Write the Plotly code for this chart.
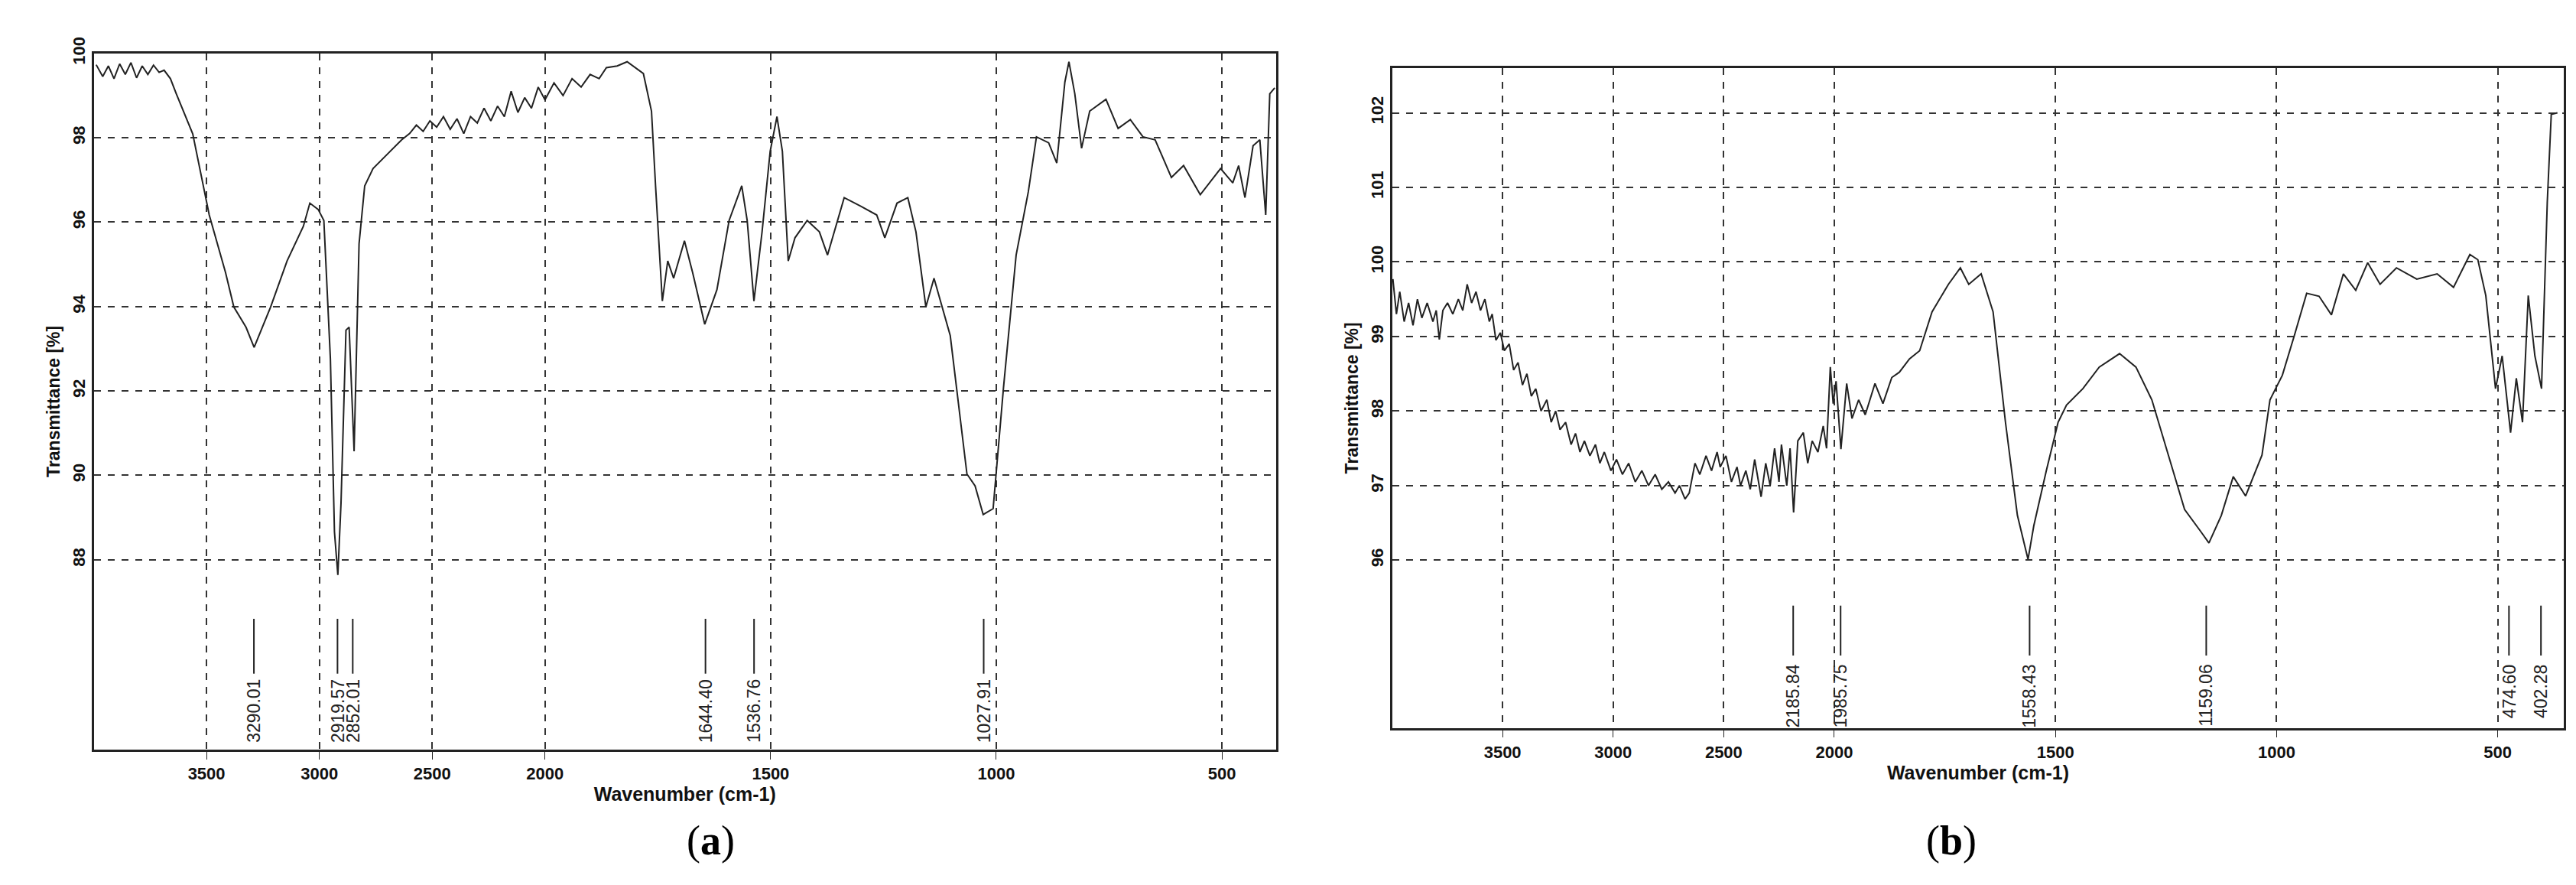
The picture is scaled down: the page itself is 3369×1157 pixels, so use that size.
import plotly.graph_objects as go

# ---- Panel (a) data ----
a_wn = [3989,3960,3935,3910,3885,3860,3835,3810,3785,3760,3735,3710,3688,3660,3634,3561,3488,3416,3379,3325,3289,3216,3143,3071,3042,3005,2980,2951,2933,2918,2904,2882,2868,2846,2824,2799,2762,2700,2635,2600,2570,2540,2510,2480,2450,2420,2390,2360,2330,2300,2270,2240,2210,2180,2150,2120,2090,2060,2030,2000,1980,1960,1940,1920,1900,1880,1864,1840,1818,1782,1764,1755,1740,1728,1715,1691,1673,1646,1619,1592,1564,1552,1537,1519,1501,1486,1474,1461,1446,1419,1392,1374,1337,1301,1265,1247,1220,1196,1178,1156,1138,1102,1065,1047,1029,1007,984,956,929,911,884,866,848,839,826,811,793,757,730,703,675,648,612,585,548,503,476,463,449,431,416,403,394,383]
a_T = [99.73,99.45,99.7,99.4,99.75,99.5,99.78,99.42,99.7,99.5,99.72,99.55,99.6,99.4,99.04,98.09,96.17,94.81,93.99,93.51,93.03,93.99,95.08,95.9,96.45,96.3,96.04,92.76,88.66,87.64,89.34,93.44,93.51,90.57,95.49,96.86,97.27,97.6,97.95,98.1,98.3,98.15,98.4,98.25,98.5,98.2,98.45,98.1,98.5,98.35,98.7,98.4,98.75,98.5,99.1,98.6,98.95,98.7,99.2,98.9,99.3,99.0,99.4,99.2,99.5,99.4,99.66,99.7,99.8,99.52,98.63,96.86,94.13,95.08,94.67,95.56,94.81,93.58,94.4,96.04,96.86,96.04,94.13,95.77,97.68,98.5,97.68,95.08,95.63,96.04,95.77,95.22,96.58,96.38,96.17,95.63,96.45,96.58,95.77,93.99,94.67,93.31,90.03,89.75,89.07,89.21,92.08,95.22,96.72,98.02,97.88,97.4,99.32,99.8,99.04,97.75,98.63,98.91,98.22,98.43,98.02,97.95,97.06,97.34,96.65,97.27,96.93,97.34,96.58,97.81,97.95,96.17,99.04,99.18]
a_peaks = [3290.01, 2919.57, 2852.01, 1644.40, 1536.76, 1027.91]
a_yticks = [88, 90, 92, 94, 96, 98, 100]

# ---- Panel (b) data ----
b_wn = [3996,3980,3965,3945,3925,3905,3885,3865,3841,3815,3800,3786,3770,3749,3725,3700,3680,3660,3640,3620,3600,3580,3560,3547,3530,3510,3492,3470,3450,3430,3410,3390,3370,3350,3326,3300,3280,3260,3240,3215,3190,3170,3150,3130,3105,3080,3060,3040,3010,2985,2958,2930,2900,2870,2840,2810,2780,2750,2720,2700,2675,2656,2630,2608,2580,2555,2530,2516,2490,2465,2440,2424,2400,2380,2360,2331,2310,2290,2270,2250,2239,2215,2200,2184,2165,2140,2120,2100,2074,2050,2035,2018,2005,1996,1985,1972,1960,1945,1930,1908,1890,1870,1853,1830,1807,1779,1742,1715,1696,1668,1641,1613,1586,1562,1549,1521,1494,1475,1438,1401,1355,1318,1282,1245,1208,1171,1153,1125,1098,1070,1033,1015,987,959,932,904,876,849,821,794,766,729,683,637,600,563,545,527,505,490,471,458,444,431,416,401,388,379,365]
b_T = [99.77,99.3,99.6,99.2,99.45,99.15,99.5,99.25,99.45,99.2,99.35,98.96,99.35,99.45,99.3,99.5,99.35,99.7,99.45,99.6,99.35,99.5,99.2,99.3,98.95,99.05,98.81,98.9,98.55,98.65,98.35,98.5,98.2,98.3,98.0,98.15,97.85,98.0,97.75,97.85,97.55,97.7,97.45,97.6,97.4,97.55,97.3,97.45,97.2,97.35,97.15,97.3,97.05,97.2,97.0,97.15,96.95,97.05,96.9,97.0,96.82,96.9,97.3,97.15,97.4,97.2,97.45,97.25,97.4,97.05,97.25,97.0,97.2,96.95,97.35,96.85,97.3,97.0,97.5,97.05,97.55,97.0,97.5,96.64,97.6,97.71,97.3,97.6,97.45,97.8,97.5,98.59,98.1,98.4,97.49,98.37,97.9,98.15,97.95,98.37,98.1,98.45,98.52,98.7,98.81,99.33,99.7,99.92,99.7,99.84,99.33,97.85,96.6,96.01,96.46,97.19,97.85,98.08,98.3,98.59,98.77,98.59,98.15,97.41,96.68,96.38,96.23,96.6,97.12,96.86,97.41,98.15,98.48,99.03,99.58,99.54,99.29,99.84,99.62,99.99,99.7,99.92,99.77,99.84,99.66,100.1,100.03,99.55,98.3,98.74,97.71,98.44,97.85,99.55,98.74,98.3,100.8,101.98,102.0]
b_peaks = [2185.84, 1985.75, 1558.43, 1159.06, 474.60, 402.28]
b_yticks = [96, 97, 98, 99, 100, 101, 102]

x_ticks = [3500, 3000, 2500, 2000, 1500, 1000, 500]

def u(w):
    # FTIR axis: scale halves above 2000 cm-1
    return w if w <= 2000 else 2000 + (w - 2000) / 2

fig = go.Figure()
FONT = "Liberation Sans, Arial, sans-serif"

panels = [
    dict(wn=a_wn, T=a_T, peaks=a_peaks, yt=a_yticks, xr=[4000, 380], yr=[83.5, 100],
         line=(86.6, 85.3), xa="x", ya="y", xd=[0.034, 0.493], yd=[0.163, 0.965], lab="a"),
    dict(wn=b_wn, T=b_T, peaks=b_peaks, yt=b_yticks, xr=[4000, 350], yr=[93.75, 102.6],
         line=(95.39, 94.72), xa="x2", ya="y2", xd=[0.538, 0.993], yd=[0.188, 0.948], lab="b"),
]

for i, p in enumerate(panels):
    fig.add_trace(go.Scatter(x=[u(w) for w in p["wn"]], y=p["T"], mode="lines",
                             line=dict(color="#222", width=2), xaxis=p["xa"], yaxis=p["ya"],
                             showlegend=False))
    for pk in p["peaks"]:
        fig.add_shape(type="line", xref=p["xa"], yref=p["ya"], x0=u(pk), x1=u(pk),
                      y0=p["line"][0], y1=p["line"][1], line=dict(color="#222", width=2))
        fig.add_annotation(xref=p["xa"], yref=p["ya"], x=u(pk), y=p["line"][1] - 0.1,
                           text=f"{pk:.2f}", textangle=-90, showarrow=False, yanchor="top",
                           font=dict(family=FONT, size=23, color="#222"))
    sfx = "" if i == 0 else "2"
    fig.update_layout(**{
        "xaxis" + sfx: dict(domain=p["xd"], range=[u(p["xr"][0]), u(p["xr"][1])],
                            tickvals=[u(t) for t in x_ticks], ticktext=[str(t) for t in x_ticks],
                            showgrid=True, gridcolor="#333", griddash="dash", gridwidth=1.5,
                            showline=True, linecolor="#222", linewidth=2.5, mirror=True,
                            ticks="outside", ticklen=10, tickcolor="#222", zeroline=False,
                            anchor="y" + sfx,
                            tickfont=dict(family=FONT, size=22, color="#111", weight="bold"),
                            title=dict(text="Wavenumber (cm-1)", standoff=4,
                                       font=dict(family=FONT, size=25, color="#111", weight="bold"))),
        "yaxis" + sfx: dict(domain=p["yd"], range=p["yr"], tickvals=p["yt"],
                            showgrid=True, gridcolor="#333", griddash="dash", gridwidth=1.5,
                            showline=True, linecolor="#222", linewidth=2.5, mirror=True,
                            ticks="", zeroline=False, tickangle=-90, anchor="x" + sfx,
                            tickfont=dict(family=FONT, size=22, color="#111", weight="bold"),
                            title=dict(text="Transmittance [%]", standoff=6,
                                       font=dict(family=FONT, size=23, color="#111", weight="bold"))),
    })
    fig.add_annotation(xref="paper", yref="paper", x=(p["xd"][0] + p["xd"][1]) / 2, y=0.058,
                       yanchor="middle", showarrow=False,
                       text=f"(<b>{p['lab']}</b>)",
                       font=dict(family="Liberation Serif, Times New Roman, serif", size=54, color="#000"))

fig.update_layout(width=3369, height=1157, margin=dict(l=0, r=0, t=0, b=0),
                  paper_bgcolor="white", plot_bgcolor="white")
fig.write_html("out.html")
